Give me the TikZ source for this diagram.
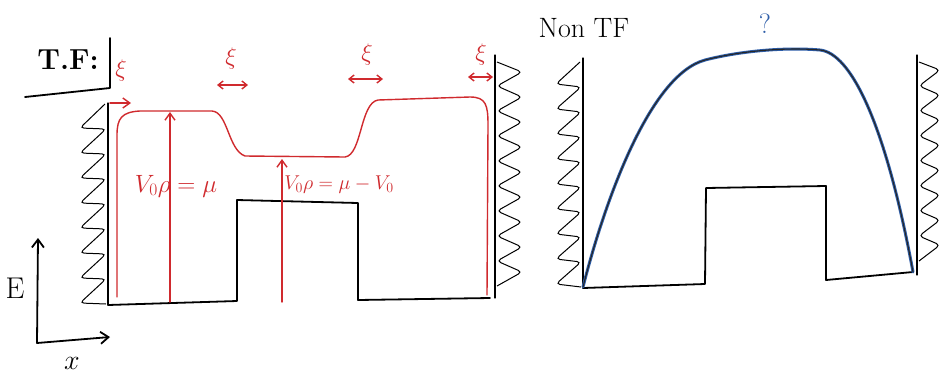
\RequirePackage{fix-cm}
\documentclass[tikz,border=0pt]{standalone}
\usetikzlibrary{arrows.meta}
\definecolor{myred}{HTML}{D02A2E}
\definecolor{myblue}{HTML}{2D5DA8}
\begin{document}
\begin{tikzpicture}[x=1pt,y=-1pt,
  ink/.style={line width=1.8pt,black,line cap=round,line join=round},
  thin/.style={line width=1.1pt,black,line cap=round,line join=round},
  redink/.style={line width=1.4pt,myred,line cap=round,line join=round},
  hatch/.style={line width=1pt,black,rounded corners=4pt},
  rarr/.style={redink,-{Straight Barb[length=7pt,width=10pt]}},
  rdarr/.style={redink,{Straight Barb[length=5pt,width=8pt]}-{Straight Barb[length=5pt,width=8pt]}},
  karr/.style={ink,-{Straight Barb[length=8pt,width=12pt]}},
  redlab/.style={text=myred,inner sep=0pt},
  xilab/.style={text=myred,font=\fontsize{24}{26}\selectfont,inner sep=0pt},
  blab/.style={text=black,inner sep=0pt}]
\useasboundingbox (0,0) rectangle (942,376);
\fill[white] (0,0) rectangle (942,376);

% ---------- left panel ----------
\node[blab,font=\fontsize{29}{31}\selectfont\bfseries] (tf) at (68,60) {T.F:};
\draw[ink] (25,97) -- (110,88) -- (110,38);

% walls
\draw[thin] (108,103) -- (108,305);
\draw[hatch] (105,104) \foreach \k in {0,...,7} { -- (80,{128+25*\k}) -- (106,{129+25*\k}) };
\draw[thin] (495,55) -- (495,298);
\draw[hatch] (497,62) \foreach \k in {0,...,8} { -- (522,{72+25*\k}) -- (497,{86+25*\k}) };

% well
\draw[ink] (108,305) -- (237,301) -- (237,200) -- (358,203) -- (358,300) -- (490,298);

% red density
\draw[redink] (117,297) -- (117,135) .. controls (117,118) and (122,112) .. (140,111)
  -- (212,111) .. controls (228,112) and (228,150) .. (245,156) -- (345,157)
  .. controls (362,155) and (360,103) .. (378,100) -- (470,97)
  .. controls (486,97) and (488,105) .. (488,125) -- (487,295);

\coordinate (a1s) at (170,302); \coordinate (a1e) at (170,112);
\coordinate (a2s) at (282,302); \coordinate (a2e) at (282,159);
\draw[rarr] (a1s) -- (a1e);
\draw[rarr] (a2s) -- (a2e);
\node[redlab,font=\fontsize{25}{27}\selectfont] (l1) at (176,186) {$V_0\rho=\mu$};
\node[redlab,font=\fontsize{20}{22}\selectfont] (l2) at (339,185) {$V_0\rho=\mu-V_0$};

% healing lengths
\coordinate (x0s) at (110,103); \coordinate (x0e) at (131,103);
\draw[rarr] (x0s) -- (x0e);
\node[xilab] (xi0) at (121,70) {$\xi$};
\coordinate (x1s) at (217,85); \coordinate (x1e) at (248,85);
\draw[rdarr] (x1s) -- (x1e);
\node[xilab] (xi1) at (231,58) {$\xi$};
\coordinate (x2s) at (348,79); \coordinate (x2e) at (383,79);
\draw[rdarr] (x2s) -- (x2e);
\node[xilab] (xi2) at (367,54) {$\xi$};
\coordinate (x3s) at (468,77); \coordinate (x3e) at (493,77);
\draw[rdarr] (x3s) -- (x3e);
\node[xilab] (xi3) at (481,54) {$\xi$};

% axes
\coordinate (o) at (37,343);
\coordinate (ey) at (38,238);
\coordinate (ex) at (110,337);
\draw[karr] (o) -- (ey);
\draw[karr] (o) -- (ex);
\node[blab,font=\fontsize{30}{32}\selectfont] (E) at (15,288) {E};
\node[blab,font=\fontsize{28}{30}\selectfont] (X) at (72,363) {$x$};

% ---------- right panel ----------
\node[blab,font=\fontsize{28}{30}\selectfont] (ntf) at (584,28) {Non TF};
\draw[thin] (583,58) -- (583,288);
\draw[hatch] (580,62) \foreach \k in {0,...,8} { -- (556,{84+25*\k}) -- (581,{87+25*\k}) };
\draw[thin] (917,55) -- (917,275);
\draw[hatch] (919,62) \foreach \k in {0,...,7} { -- (940,{70+25*\k}) -- (919,{86+25*\k}) };

\draw[ink] (583,288) -- (705,284) -- (706,188) -- (826,186) -- (826,280) -- (913,272);

\coordinate (c0) at (583,287);
\coordinate (c1) at (705,60);
\coordinate (c2) at (820,50);
\coordinate (c3) at (913,272);
\draw[line width=3pt,myblue,line cap=round] (c0) .. controls (605,200) and (650,75) .. (c1)
  .. controls (740,51) and (785,47) .. (c2) .. controls (850,53) and (885,120) .. (c3);
\draw[line width=1.1pt,black!85,line cap=round] (c0) .. controls (605,200) and (650,75) .. (c1)
  .. controls (740,51) and (785,47) .. (c2) .. controls (850,53) and (885,120) .. (c3);
\node[blab,text=myblue,font=\fontsize{28}{30}\selectfont] (q) at (765,24) {?};
\end{tikzpicture}
\end{document}
